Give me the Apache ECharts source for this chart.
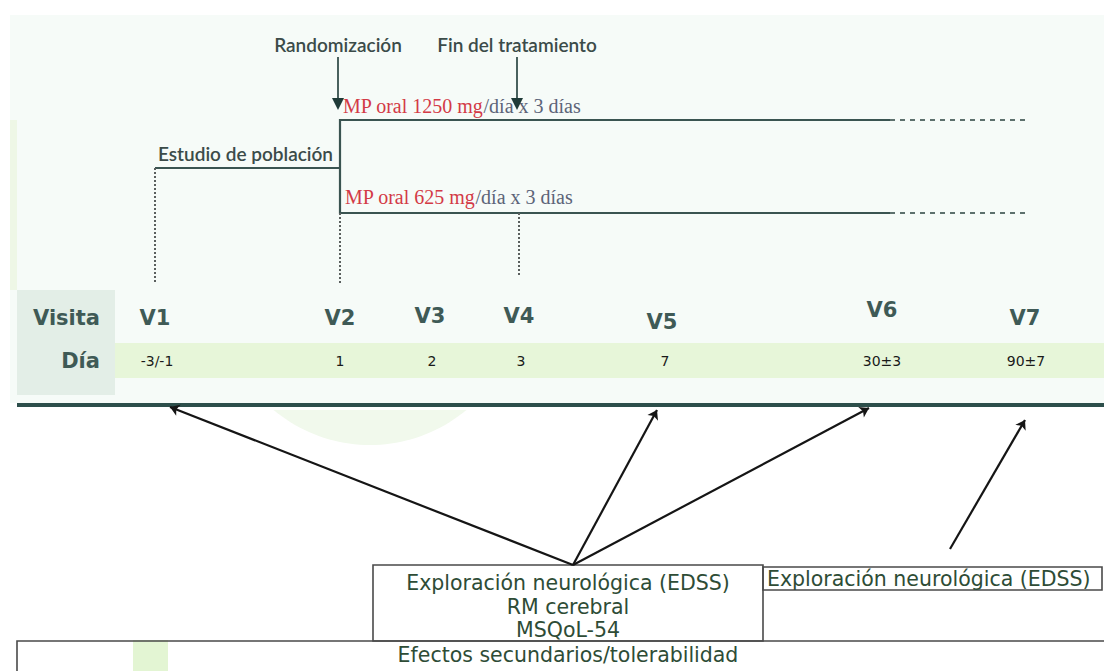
<!DOCTYPE html>
<html><head><meta charset="utf-8">
<script src="https://cdn.jsdelivr.net/npm/echarts@6/dist/echarts.min.js"></script>
<style>html,body{margin:0;padding:0;background:#fff}#c{width:1104px;height:671px}</style>
</head><body><div id="c"></div>
<script>
// ---- data ----
const visits = ['V1', 'V2', 'V3', 'V4', 'V5', 'V6', 'V7'];
const days = ['-3/-1', '1', '2', '3', '7', '30±3', '90±7'];
const visitX = [155, 340, 430, 519, 662, 882, 1025];   // schematic timeline position of each visit
const rowLabels = ['Visita', 'Día'];
const milestones = ['Randomización', 'Fin del tratamiento'];
const milestoneVisit = [1, 3];                         // V2, V4
const armDose = ['MP oral 1250 mg', 'MP oral 625 mg'];
const armSuffix = ['/día x 3 días', '/día x 3 días'];
const screeningLabel = 'Estudio de población';
const assessmentsA = ['Exploración neurológica (EDSS)', 'RM cerebral', 'MSQoL-54'];
const assessmentsAVisits = [0, 4, 5];                  // V1, V5, V6
const assessmentsB = ['Exploración neurológica (EDSS)'];
const assessmentsBVisits = [6];                        // V7
const safetyLabel = 'Efectos secundarios/tolerabilidad';

// ---- layout (pixel space of the hidden axes) ----
const W = 1104, H = 671;
const Y = {label: 44, arrowTop: 57, arrowTip: 104, dose1: 106, arm1: 120, screen: 153, screenLine: 168,
  dose2: 197, arm2: 213, dotEnd: 283, visita: 318, dia: 361, bandTop: 343, bandBot: 378,
  colTop: 290, colBot: 395, rule: 405, boxTop: 565, box2Bot: 590, box1Bot: 641};
const visitDy = [0, 0, -2, -2, 4, -8, 0];
const dayDx = [2, 0, 2, 2, 3, 0, 1];
const armSolidEnd = 890, armDashEnd = 1030;
const boxA = [373, 763], boxB = [763, 1102], boxC = [17, 1110];
const hubA = [573, Y.boxTop];
const arrowTipDx = [15, -5, -13], arrowTipY = [407, 410, 408];
const hubB = [950, 549], tipB = [1025, 420];

const lineCol = '#3a5451';
const boxInk = '#2e4c36';
const topFont = '600 19px "Lato"';

function P(api, x, y) { return api.coord([x, y]); }

const chart = echarts.init(document.getElementById('c'), null, {renderer: 'svg'});

const series = [];

// backgrounds
series.push({
  type: 'custom', coordinateSystem: 'cartesian2d', z: 0, silent: true,
  data: [[0, 0]],
  renderItem: (params, api) => {
    const r = (x0, y0, x1, y1, fill) => {
      const a = P(api, x0, y0), b = P(api, x1, y1);
      return {type: 'rect', shape: {x: a[0], y: a[1], width: b[0] - a[0], height: b[1] - a[1]}, style: {fill}};
    };
    const arc = [];
    for (let t = 0; t <= Math.PI + 1e-6; t += Math.PI / 90) {
      const x = 370 + 150 * Math.cos(t), y = 295 + 150 * Math.sin(t);
      if (y >= Y.rule + 2) arc.push(P(api, x, y));
    }
    return {type: 'group', children: [
      r(10, 15, W, Y.rule - 2, '#f6fbf8'),
      r(10, 120, 17, Y.colTop, '#eef7e6'),
      r(17, Y.colTop, 115, Y.colBot, '#e3eee7'),
      r(115, Y.bandTop, W, Y.bandBot, '#e7f6d9'),
      {type: 'polygon', shape: {points: arc}, style: {fill: '#f1f9ec'}},
      r(133, 640, 168, H, '#e3f5d3')
    ]};
  }
});

// thick rule under the table
series.push({
  type: 'line', silent: true, symbol: 'none', z: 3,
  data: [[17, Y.rule], [W, Y.rule]],
  lineStyle: {color: '#2d4f4b', width: 4}
});

// row labels
series.push({
  type: 'custom', coordinateSystem: 'cartesian2d', z: 4, silent: true,
  data: rowLabels.map((t, i) => [100, i === 0 ? Y.visita : Y.dia]),
  renderItem: (params, api) => {
    const p = P(api, api.value(0), api.value(1));
    return {type: 'text', x: p[0], y: p[1], style: {text: rowLabels[params.dataIndex], fill: '#3f5a56',
      font: 'bold 21px "DejaVu Sans"', align: 'right', verticalAlign: 'middle'}};
  }
});

// visit labels
series.push({
  type: 'custom', coordinateSystem: 'cartesian2d', z: 4, silent: true,
  data: visits.map((v, i) => [visitX[i], Y.visita + visitDy[i]]),
  renderItem: (params, api) => {
    const p = P(api, api.value(0), api.value(1));
    const i = params.dataIndex;
    return {type: 'text', x: p[0], y: p[1], style: {text: visits[i], fill: '#3f5a56',
      font: 'bold 21px "DejaVu Sans"', align: 'center', verticalAlign: 'middle'}};
  }
});

// day labels
series.push({
  type: 'custom', coordinateSystem: 'cartesian2d', z: 4, silent: true,
  data: days.map((d, i) => [visitX[i] + dayDx[i], Y.dia]),
  renderItem: (params, api) => {
    const p = P(api, api.value(0), api.value(1));
    const i = params.dataIndex;
    return {type: 'text', x: p[0], y: p[1], style: {text: days[i], fill: '#1a1a1a',
      font: '14px "DejaVu Sans"', align: 'center', verticalAlign: 'middle'}};
  }
});

// screening bracket + arms (solid)
series.push({
  type: 'lines', coordinateSystem: 'cartesian2d', z: 3, silent: true, polyline: true,
  data: [
    {coords: [[visitX[0], Y.screenLine], [visitX[1], Y.screenLine]]},
    {coords: [[armSolidEnd, Y.arm1], [visitX[1], Y.arm1], [visitX[1], Y.arm2], [armSolidEnd, Y.arm2]]}
  ],
  lineStyle: {color: lineCol, width: 2.2, opacity: 1}
});
// arms continuation (dashed)
series.push({
  type: 'lines', coordinateSystem: 'cartesian2d', z: 3, silent: true,
  data: [
    {coords: [[armSolidEnd, Y.arm1], [armDashEnd, Y.arm1]]},
    {coords: [[armSolidEnd, Y.arm2], [armDashEnd, Y.arm2]]}
  ],
  lineStyle: {color: '#5d706d', width: 2, type: [5, 5], opacity: 1}
});
// dotted drop lines to the visits
series.push({
  type: 'lines', coordinateSystem: 'cartesian2d', z: 3, silent: true,
  data: [
    {coords: [[visitX[0], Y.screenLine], [visitX[0], Y.dotEnd]]},
    {coords: [[visitX[1], Y.arm2], [visitX[1], Y.dotEnd]]},
    {coords: [[visitX[3], Y.arm2], [visitX[3], Y.dotEnd - 7]]}
  ],
  lineStyle: {color: '#5a5f5e', width: 2, type: [2, 2], opacity: 1}
});

// milestone arrows
series.push({
  type: 'lines', coordinateSystem: 'cartesian2d', z: 5, silent: true,
  symbol: ['none', 'triangle'], symbolSize: [9, 12],
  data: milestoneVisit.map(v => ({coords: [[visitX[v] - 2, Y.arrowTop], [visitX[v] - 2, Y.arrowTip]]})),
  lineStyle: {color: '#1f3b38', width: 1.6, opacity: 1}
});
// milestone labels
series.push({
  type: 'custom', coordinateSystem: 'cartesian2d', z: 4, silent: true,
  data: milestoneVisit.map(v => [visitX[v] - 2, Y.label]),
  renderItem: (params, api) => {
    const p = P(api, api.value(0), api.value(1));
    return {type: 'text', x: p[0], y: p[1], style: {text: milestones[params.dataIndex], fill: '#3b4b49',
      font: topFont, align: 'center', verticalAlign: 'middle'}};
  }
});
// screening label
series.push({
  type: 'custom', coordinateSystem: 'cartesian2d', z: 4, silent: true,
  data: [[visitX[0] + 3, Y.screen]],
  renderItem: (params, api) => {
    const p = P(api, api.value(0), api.value(1));
    return {type: 'text', x: p[0], y: p[1], style: {text: screeningLabel, fill: '#3b4b49',
      font: topFont, align: 'left', verticalAlign: 'middle'}};
  }
});
// arm dose labels
series.push({
  type: 'custom', coordinateSystem: 'cartesian2d', z: 4, silent: true,
  data: armDose.map((d, i) => [visitX[1] + (i === 0 ? 3 : 5), i === 0 ? Y.dose1 : Y.dose2]),
  renderItem: (params, api) => {
    const p = P(api, api.value(0), api.value(1));
    const i = params.dataIndex;
    return {type: 'text', x: p[0], y: p[1], style: {
      text: '{d|' + armDose[i] + '}{s|' + armSuffix[i] + '}',
      align: 'left', verticalAlign: 'middle',
      rich: {d: {fill: '#d33a46', font: '20px "Liberation Serif"'}, s: {fill: '#5c6478', font: '20px "Liberation Serif"'}}
    }};
  }
});

// assessment boxes
series.push({
  type: 'custom', coordinateSystem: 'cartesian2d', z: 4, silent: true,
  data: [[0, 0]],
  renderItem: (params, api) => {
    const rect = (x0, y0, x1, y1) => {
      const a = P(api, x0, y0), b = P(api, x1, y1);
      return {type: 'rect', shape: {x: a[0], y: a[1], width: b[0] - a[0], height: b[1] - a[1]},
        style: {fill: 'none', stroke: '#4a4a4a', lineWidth: 1.6}};
    };
    const txt = (x, y, t, align) => {
      const p = P(api, x, y);
      return {type: 'text', x: p[0], y: p[1], style: {text: t, fill: boxInk, font: '20.5px "DejaVu Sans"', align, verticalAlign: 'middle'}};
    };
    const ch = [
      rect(boxC[0], Y.box1Bot, boxC[1], H + 10),
      rect(boxA[0], Y.boxTop, boxA[1], Y.box1Bot),
      rect(boxB[0], Y.boxTop + 2, boxB[1], Y.box2Bot)
    ];
    const cx = (boxA[0] + boxA[1]) / 2;
    assessmentsA.forEach((t, i) => ch.push(txt(cx, Y.boxTop + 18 + i * 23.5, t, 'center')));
    assessmentsB.forEach((t, i) => ch.push(txt(boxB[0] + 4, Y.boxTop + 14 + i * 23.5, t, 'left')));
    ch.push(txt(cx, Y.box1Bot + 14, safetyLabel, 'center'));
    return {type: 'group', children: ch};
  }
});

// assessment arrows
series.push({
  type: 'lines', coordinateSystem: 'cartesian2d', z: 5, silent: true,
  symbol: ['none', 'arrow'], symbolSize: 9,
  data: assessmentsAVisits.map((v, k) => ({coords: [hubA, [visitX[v] + arrowTipDx[k], arrowTipY[k]]]}))
    .concat(assessmentsBVisits.map(v => ({coords: [hubB, [visitX[v] + (tipB[0] - visitX[6]), tipB[1]]]}))),
  lineStyle: {color: '#151515', width: 2.2, opacity: 1}
});

chart.setOption({
  animation: false,
  backgroundColor: '#ffffff',
  grid: {left: 0, right: 0, top: 0, bottom: 0},
  xAxis: {type: 'value', min: 0, max: W, show: false},
  yAxis: {type: 'value', min: 0, max: H, inverse: true, show: false},
  series
});
</script></body></html>
